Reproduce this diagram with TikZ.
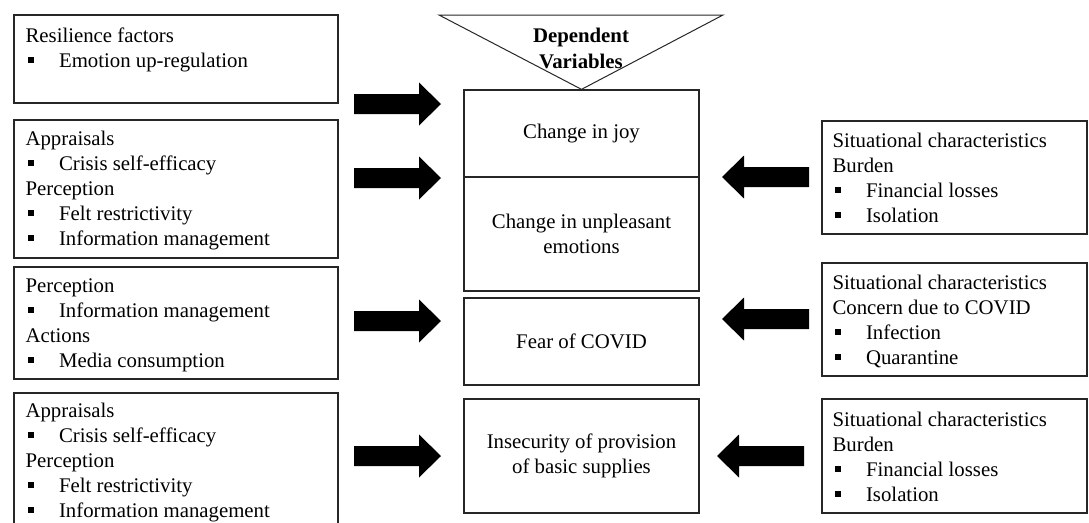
\documentclass[tikz,border=0pt]{standalone}
\usepackage{fontspec}
\setmainfont{Liberation Serif}
\usetikzlibrary{calc}
\newcommand\bul{\makebox[33.5pt][l]{\hspace{2.5pt}\rule[4.5pt]{5.5pt}{5.5pt}}}
\newcommand\rblock[1]{\fill[black] (#1) ++(0,-10) -- ++(65,0) -- ++(0,-11.5) -- ++(22,21.5) -- ++(-22,21.5) -- ++(0,-11.5) -- ++(-65,0) -- cycle;}
\newcommand\lblock[1]{\fill[black] (#1) -- ++(22,-21.5) -- ++(0,11.5) -- ++(65,0) -- ++(0,20) -- ++(-65,0) -- ++(0,11.5) -- cycle;}
\begin{document}
\begin{tikzpicture}[x=1pt,y=-1pt,
  box/.style={draw=black!85, line width=1.3pt, rectangle, inner sep=0pt},
  lbox/.style={box, minimum width=324pt},
  cbox/.style={box, minimum width=235pt},
  rbox/.style={box, minimum width=265pt},
  txt/.style={inner sep=0pt, font=\fontsize{20.8}{25}\selectfont, anchor=base west},
  ctxt/.style={inner sep=0pt, font=\fontsize{20.8}{25.5}\selectfont, align=center}
]
\useasboundingbox (0,0) rectangle (1089,522);
% left boxes
\node[lbox, minimum height=88pt] (L1) at (176,59) {};
\node[lbox, minimum height=138pt] (L2) at (176,189) {};
\node[lbox, minimum height=112pt] (L3) at (176,323) {};
\node[lbox, minimum height=134pt] (L4) at (176,460) {};
\node[txt] (L1t) at ([shift={(12,28)}]L1.north west) {\begin{tabular}[t]{@{}l@{}}Resilience factors\\ \bul Emotion up-regulation\end{tabular}};
\node[txt] (L2t) at ([shift={(12,26)}]L2.north west) {\begin{tabular}[t]{@{}l@{}}Appraisals\\ \bul Crisis self-efficacy\\ Perception\\ \bul Felt restrictivity\\ \bul Information management\end{tabular}};
\node[txt] (L3t) at ([shift={(12,26)}]L3.north west) {\begin{tabular}[t]{@{}l@{}}Perception\\ \bul Information management\\ Actions\\ \bul Media consumption\end{tabular}};
\node[txt] (L4t) at ([shift={(12,25)}]L4.north west) {\begin{tabular}[t]{@{}l@{}}Appraisals\\ \bul Crisis self-efficacy\\ Perception\\ \bul Felt restrictivity\\ \bul Information management\end{tabular}};
% centre boxes
\node[cbox, minimum height=87pt] (C1) at (581.5,133.5) {};
\node[cbox, minimum height=114pt] (C2) at (581.5,234) {};
\node[cbox, minimum height=87pt] (C3) at (581.5,341.5) {};
\node[cbox, minimum height=114pt] (C4) at (581.5,456) {};
\node[ctxt] (C1t) at (C1.center) {Change in joy};
\node[ctxt] (C2t) at (C2.center) {Change in unpleasant\\emotions};
\node[ctxt] (C3t) at (C3.center) {Fear of COVID};
\node[ctxt] (C4t) at (C4.center) {Insecurity of provision\\of basic supplies};
% triangle
\coordinate (T1) at (439,15);
\coordinate (T2) at (723,15);
\draw[line width=1pt, black!85] (T1) -- (T2) -- (C1.north) -- cycle;
\node[ctxt, font=\fontsize{20.8}{26}\selectfont\bfseries] (DV) at (581,48) {Dependent\\Variables};
% right boxes
\node[rbox, minimum height=113pt] (R1) at (954.5,177.5) {};
\node[rbox, minimum height=113pt] (R2) at (954.5,319.5) {};
\node[rbox, minimum height=114pt] (R3) at (954.5,456) {};
\node[txt] (R1t) at ([shift={(11,27)}]R1.north west) {\begin{tabular}[t]{@{}l@{}}Situational characteristics\\ Burden\\ \bul Financial losses\\ \bul Isolation\end{tabular}};
\node[txt] (R2t) at ([shift={(11,27)}]R2.north west) {\begin{tabular}[t]{@{}l@{}}Situational characteristics\\ Concern due to COVID\\ \bul Infection\\ \bul Quarantine\end{tabular}};
\node[txt] (R3t) at ([shift={(11,28)}]R3.north west) {\begin{tabular}[t]{@{}l@{}}Situational characteristics\\ Burden\\ \bul Financial losses\\ \bul Isolation\end{tabular}};
% block arrows
\coordinate (a1) at (354,104);
\coordinate (a2) at (354,178);
\coordinate (a3) at (354,321);
\coordinate (a4) at (354,456);
\coordinate (b1) at (722,177);
\coordinate (b2) at (722,319);
\coordinate (b3) at (717,456);
\rblock{a1}\rblock{a2}\rblock{a3}\rblock{a4}
\lblock{b1}\lblock{b2}\lblock{b3}
\end{tikzpicture}
\end{document}
